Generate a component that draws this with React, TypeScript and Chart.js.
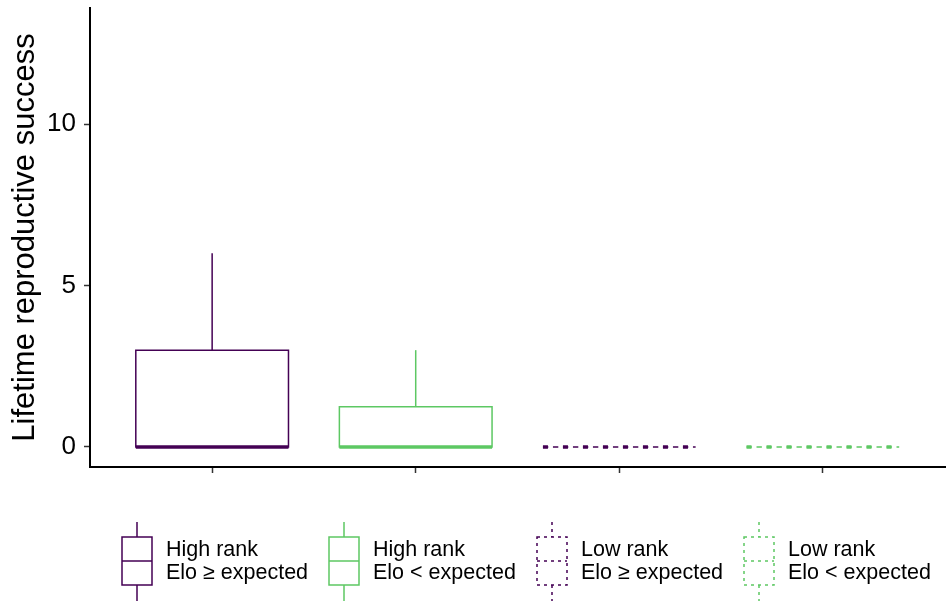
import React, { useEffect, useRef } from "react";
import { Chart, registerables } from "chart.js";

Chart.register(...registerables);

// ---- data ----
const groupLine1 = ["High rank", "High rank", "Low rank", "Low rank"];
const groupLine2 = ["Elo ≥ expected", "Elo < expected", "Elo ≥ expected", "Elo < expected"];
const whiskerMin = [0, 0, 0, 0];
const q1 = [0, 0, 0, 0];
const median = [0, 0, 0, 0];
const q3 = [3, 1.25, 0, 0];
const whiskerMax = [6, 3, 0, 0];
const yTicks = [0, 5, 10];
const yTitle = "Lifetime reproductive success";

const colors = ["#440154", "#5DC863", "#440154", "#5DC863"];
const dashed = [false, false, true, true];

const FONT = "'Liberation Sans', Arial, sans-serif";

const boxPlugin = {
  id: "boxes",
  afterDatasetsDraw(chart: any) {
    const ctx = chart.ctx;
    const xs = chart.scales.x;
    const ys = chart.scales.y;
    ctx.save();
    for (let i = 0; i < q1.length; i++) {
      const cx = xs.getPixelForValue(i + 1);
      const half = xs.getPixelForValue(i + 1 + 0.375) - cx;
      const yq1 = ys.getPixelForValue(q1[i]);
      const yq3 = ys.getPixelForValue(q3[i]);
      const ymed = ys.getPixelForValue(median[i]);
      const ymin = ys.getPixelForValue(whiskerMin[i]);
      const ymax = ys.getPixelForValue(whiskerMax[i]);
      ctx.strokeStyle = colors[i];
      ctx.lineWidth = 1.5;
      ctx.setLineDash(dashed[i] ? [5, 5] : []);
      // whiskers
      ctx.beginPath();
      ctx.moveTo(cx, yq3);
      ctx.lineTo(cx, ymax);
      ctx.moveTo(cx, yq1);
      ctx.lineTo(cx, ymin);
      ctx.stroke();
      // box
      ctx.beginPath();
      ctx.rect(cx - half, yq3, 2 * half, yq1 - yq3);
      ctx.stroke();
      // median
      ctx.lineWidth = 3.5;
      ctx.setLineDash(dashed[i] ? [5, 15] : []);
      ctx.beginPath();
      ctx.moveTo(cx - half, ymed);
      ctx.lineTo(cx + half, ymed);
      ctx.stroke();
    }
    ctx.restore();
  },
  afterDraw(chart: any) {
    const ctx = chart.ctx;
    const keyX = [122, 329, 537, 744];
    const keyW = 30;
    const boxTop = 537;
    const boxBot = 585;
    const midY = 561;
    ctx.save();
    for (let i = 0; i < keyX.length; i++) {
      const x0 = keyX[i];
      const cx = x0 + keyW / 2;
      ctx.strokeStyle = colors[i];
      ctx.lineWidth = 1.5;
      ctx.setLineDash(dashed[i] ? [3, 4] : []);
      ctx.beginPath();
      ctx.moveTo(cx, 522);
      ctx.lineTo(cx, boxTop);
      ctx.moveTo(cx, boxBot);
      ctx.lineTo(cx, 601);
      ctx.rect(x0, boxTop, keyW, boxBot - boxTop);
      ctx.moveTo(x0, midY);
      ctx.lineTo(x0 + keyW, midY);
      ctx.stroke();
      ctx.setLineDash([]);
      ctx.fillStyle = "#000";
      ctx.font = `21.5px ${FONT}`;
      ctx.textBaseline = "middle";
      ctx.textAlign = "left";
      ctx.fillText(groupLine1[i], x0 + 44, 550);
      ctx.fillText(groupLine2[i], x0 + 44, 573);
    }
    ctx.restore();
  },
};

export default function App() {
  const ref = useRef<HTMLCanvasElement | null>(null);
  useEffect(() => {
    if (!ref.current) return;
    const chart = new Chart(ref.current, {
      type: "scatter",
      data: {
        datasets: [
          {
            data: whiskerMax.map((v, i) => ({ x: i + 1, y: v })),
            pointRadius: 0,
            pointHoverRadius: 0,
            showLine: false,
          },
        ],
      },
      options: {
        animation: false,
        responsive: true,
        maintainAspectRatio: false,
        events: [],
        layout: { padding: { left: 0, top: 8, right: 3, bottom: 0 } },
        plugins: { legend: { display: false }, tooltip: { enabled: false } },
        scales: {
          x: {
            type: "linear",
            min: 0.4,
            max: 4.6,
            afterBuildTicks: (s: any) => {
              s.ticks = [1, 2, 3, 4].map((v) => ({ value: v }));
            },
            afterFit: (s: any) => {
              s.height = 135;
              s.paddingLeft = 0;
              s.paddingRight = 0;
            },
            ticks: { display: false },
            grid: {
              drawOnChartArea: false,
              drawTicks: true,
              tickLength: 6,
              tickColor: "#333",
              tickWidth: 1.5,
            },
            border: { color: "#000", width: 2 },
          },
          y: {
            type: "linear",
            min: -0.62,
            max: 13.6,
            afterBuildTicks: (s: any) => {
              s.ticks = yTicks.map((v) => ({ value: v }));
            },
            afterFit: (s: any) => {
              s.width = 90;
              s.paddingTop = 0;
              s.paddingBottom = 0;
            },
            ticks: {
              color: "#000",
              font: { family: FONT, size: 26 },
              padding: 8,
              callback: (v: any) => String(v),
            },
            grid: {
              drawOnChartArea: false,
              drawTicks: true,
              tickLength: 6,
              tickColor: "#333",
              tickWidth: 1.5,
            },
            border: { color: "#000", width: 2 },
            title: {
              display: true,
              text: yTitle,
              color: "#000",
              font: { family: FONT, size: 31 },
              padding: { top: 7, bottom: 0 },
            },
          },
        },
      },
      plugins: [boxPlugin],
    } as any);
    return () => chart.destroy();
  }, []);
  return (
    <div
      style={{
        position: "fixed",
        left: 0,
        top: 0,
        width: 948,
        height: 602,
        background: "#fff",
      }}
    >
      <canvas ref={ref} />
    </div>
  );
}
